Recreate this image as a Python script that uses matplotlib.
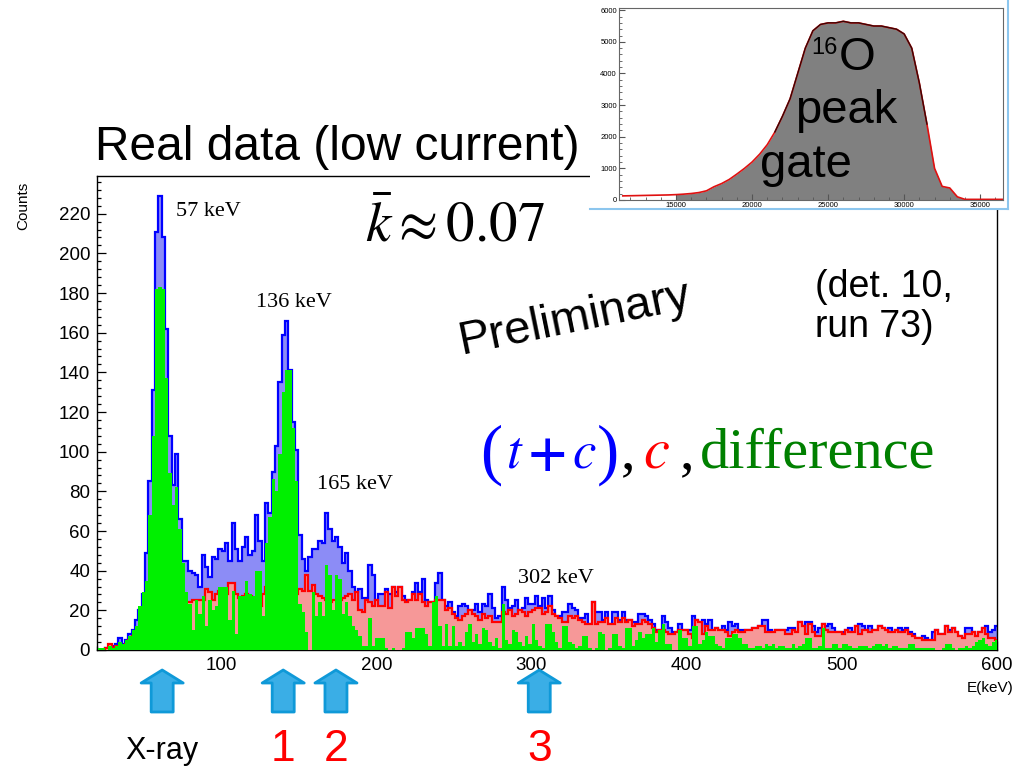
import numpy as np
import matplotlib
matplotlib.use('Agg')
import matplotlib.pyplot as plt
from matplotlib.patches import Polygon, Rectangle
from matplotlib.lines import Line2D
from matplotlib.ticker import MultipleLocator

W, H = 1015, 768

# Энергетический диапазон спектра (keV), 270 бинов
e_min, e_max = 20, 600

# (t+c) - синяя гистограмма
counts_total = [
    0, 0, 1, 1, 2, 3, 6, 3, 5, 8,
    10, 15, 20, 28, 49, 85, 131, 211, 229, 208,
    162, 108, 83, 99, 66, 45, 45, 40, 39, 38,
    32, 48, 42, 37, 47, 46, 51, 50, 54, 45,
    64, 51, 45, 52, 57, 48, 50, 68, 55, 45,
    74, 69, 90, 103, 135, 159, 166, 141, 115, 101,
    58, 46, 40, 47, 51, 51, 55, 54, 69, 61,
    55, 57, 52, 44, 49, 40, 32, 29, 31, 26,
    26, 43, 38, 25, 28, 28, 31, 28, 32, 29,
    32, 27, 25, 25, 29, 34, 29, 36, 25, 24,
    24, 34, 39, 25, 22, 24, 19, 17, 22, 23,
    22, 20, 20, 23, 19, 23, 22, 28, 21, 16,
    17, 32, 25, 21, 22, 25, 20, 21, 26, 23,
    23, 27, 22, 26, 21, 27, 20, 17, 17, 19,
    19, 23, 21, 20, 16, 16, 18, 13, 24, 19,
    19, 15, 19, 13, 19, 19, 15, 19, 15, 15,
    14, 14, 18, 18, 17, 15, 13, 10, 10, 17,
    14, 11, 9, 9, 13, 10, 10, 10, 17, 15,
    14, 15, 13, 15, 10, 11, 10, 12, 10, 14,
    12, 13, 10, 10, 10, 10, 11, 11, 12, 15,
    15, 10, 9, 10, 10, 10, 10, 11, 11, 9,
    14, 12, 14, 14, 12, 9, 11, 13, 12, 13,
    11, 9, 9, 9, 10, 11, 9, 12, 13, 12,
    10, 12, 10, 10, 12, 11, 10, 11, 9, 10,
    11, 10, 11, 9, 8, 6, 6, 7, 6, 5,
    9, 10, 8, 8, 12, 10, 11, 9, 7, 6,
    11, 11, 9, 7, 9, 11, 12, 9, 10, 12,
]

# c - красная гистограмма
counts_c = [
    0, 0, 1, 3, 1, 2, 1, 2, 3, 5,
    7, 8, 8, 8, 10, 12, 15, 18, 20, 20,
    22, 22, 22, 22, 23, 23, 24, 24, 25, 25,
    25, 25, 31, 29, 25, 28, 30, 28, 28, 34,
    34, 28, 26, 27, 28, 27, 25, 24, 22, 28,
    32, 28, 26, 26, 25, 25, 25, 25, 26, 28,
    31, 30, 38, 30, 33, 28, 27, 26, 25, 24,
    25, 25, 25, 26, 27, 28, 25, 29, 20, 19,
    25, 24, 22, 25, 22, 22, 29, 21, 32, 27,
    32, 25, 24, 25, 28, 25, 28, 24, 22, 24,
    24, 25, 25, 25, 20, 21, 18, 16, 15, 17,
    18, 20, 18, 17, 15, 18, 16, 17, 14, 14,
    14, 19, 18, 20, 17, 18, 20, 19, 17, 19,
    20, 21, 21, 18, 19, 22, 18, 17, 16, 14,
    14, 17, 16, 17, 15, 14, 13, 13, 24, 13,
    14, 14, 16, 13, 13, 16, 14, 16, 14, 15,
    12, 13, 13, 15, 14, 13, 11, 9, 10, 10,
    9, 8, 8, 9, 10, 10, 10, 8, 6, 15,
    14, 8, 12, 10, 10, 11, 10, 10, 9, 7,
    9, 10, 9, 9, 10, 10, 11, 11, 12, 12,
    9, 9, 9, 10, 10, 10, 8, 8, 10, 9,
    14, 12, 8, 13, 9, 7, 7, 13, 10, 9,
    9, 9, 9, 8, 10, 9, 9, 12, 8, 10,
    10, 9, 10, 10, 12, 11, 10, 9, 9, 10,
    9, 9, 10, 8, 7, 6, 6, 5, 5, 5,
    5, 10, 8, 8, 12, 9, 11, 9, 7, 6,
    8, 8, 9, 7, 9, 11, 8, 6, 6, 5,
]

# difference - зелёная гистограмма
counts_diff = [
    1, 1, 0, 2, 1, 2, 4, 3, 5, 7,
    10, 12, 22, 29, 35, 68, 108, 182, 183, 182,
    137, 89, 73, 82, 61, 44, 29, 23, 10, 25,
    18, 27, 12, 25, 20, 22, 32, 32, 32, 15,
    30, 8, 27, 27, 35, 28, 27, 40, 40, 17,
    54, 67, 86, 80, 99, 130, 141, 141, 112, 85,
    23, 19, 9, 0, 29, 17, 24, 17, 43, 38,
    20, 38, 36, 18, 24, 17, 12, 10, 7, 2,
    2, 16, 2, 6, 6, 6, 1, 0, 1, 0,
    0, 1, 9, 9, 6, 11, 11, 11, 8, 2,
    24, 27, 12, 2, 13, 2, 12, 2, 4, 2,
    9, 13, 4, 8, 3, 11, 10, 4, 2, 6,
    1, 23, 5, 3, 10, 9, 4, 2, 7, 3,
    13, 5, 2, 1, 13, 13, 9, 4, 1, 12,
    12, 4, 3, 1, 2, 7, 7, 1, 0, 1,
    9, 8, 0, 1, 8, 8, 2, 1, 11, 11,
    2, 5, 9, 6, 8, 8, 11, 4, 10, 13,
    3, 3, 0, 0, 10, 6, 6, 2, 12, 12,
    3, 5, 9, 7, 7, 3, 2, 1, 6, 6,
    8, 8, 6, 3, 3, 1, 1, 2, 2, 1,
    3, 2, 3, 1, 2, 2, 1, 1, 3, 1,
    2, 3, 6, 6, 1, 1, 2, 11, 1, 1,
    3, 3, 1, 3, 3, 2, 1, 1, 2, 2,
    2, 1, 2, 3, 3, 2, 3, 1, 2, 2,
    1, 1, 1, 3, 3, 1, 1, 1, 1, 1,
    1, 0, 0, 1, 3, 3, 1, 0, 1, 1,
    2, 1, 2, 4, 5, 6, 3, 2, 4, 5,
]

# Вставка: спектр с гейтом на пик 16O
gate_channel = [11500, 12000, 12500, 13000, 13500, 14000, 14500, 15000, 15500, 16000,
                16500, 17000, 17500, 18000, 18500, 19000, 19500, 20000, 20500, 21000,
                21500, 22000, 22500, 23000, 23500, 24000, 24500, 25000, 25500, 26000,
                26500, 27000, 27500, 28000, 28500, 29000, 29500, 30000, 30500, 31000,
                31500, 32000, 32500, 33000, 33500, 34000, 34500, 35000, 35500, 36000,
                36500]
gate_counts = [130, 135, 140, 145, 150, 155, 160, 170, 185, 205,
               235, 290, 420, 520, 650, 820, 1000, 1200, 1450, 1750,
               2150, 2650, 3200, 4000, 4800, 5350, 5550, 5600, 5600, 5650,
               5600, 5600, 5550, 5500, 5500, 5450, 5400, 5250, 4800, 3700,
               2400, 1000, 430, 380, 100, 20, 20, 20, 20, 20,
               20]

peak_labels = ['57 keV', '136 keV', '165 keV', '302 keV']
arrow_energies = [62, 140, 174, 305]
arrow_labels = ['X-ray', '1', '2', '3']
arrow_label_colors = ['black', 'red', 'red', 'red']


def fx(x):
    return x / W


def fy(y):
    return 1 - y / H


plt.rcParams['font.family'] = ['Liberation Sans', 'DejaVu Sans']
plt.rcParams['mathtext.fontset'] = 'stix'

fig = plt.figure(figsize=(W / 100, H / 100), dpi=100)

# Основной спектр (бины сдвинуты на ~0.8 keV, как в оригинале)
ax = fig.add_axes([fx(97), fy(650), 900 / W, 474 / H])
edges = np.linspace(e_min + 0.8, e_max + 0.8, len(counts_total) + 1)
ax.stairs(counts_total, edges, fill=True, color='#8c8cf6', zorder=2)
ax.stairs(counts_total, edges, color='#0000ff', lw=1.6, zorder=2.1)
ax.stairs(counts_c, edges, fill=True, color='#f69898', zorder=3)
ax.stairs(counts_c, edges, color='#ff0000', lw=1.6, zorder=3.1)
ax.stairs(counts_diff, edges, fill=True, color='#00f000', zorder=4)

ax.set_xlim(e_min, e_max)
ax.set_ylim(0, 239)
ax.xaxis.set_major_locator(MultipleLocator(100))
ax.xaxis.set_minor_locator(MultipleLocator(20))
ax.yaxis.set_major_locator(MultipleLocator(20))
ax.yaxis.set_minor_locator(MultipleLocator(4))
ax.set_axisbelow(True)
ax.tick_params(which='both', direction='in', top=False, right=False)
ax.tick_params(which='major', length=6.5, width=0.9, labelsize=13.5, pad=5)
ax.tick_params(which='minor', length=3.2, width=0.9)
for s in ax.spines.values():
    s.set_linewidth(1.0)

fig.text(fx(23), fy(206), 'Counts', rotation=90, ha='center', va='center', fontsize=11)
fig.text(fx(1013), fy(688), 'E(keV)', ha='right', va='center', fontsize=11)

# Подписи пиков
serif = 'Liberation Serif'
peak_pos = [(176, 216), (256, 307), (317, 489), (518, 583)]
for lab, (x, y) in zip(peak_labels, peak_pos):
    fig.text(fx(x), fy(y), lab, family=serif, fontsize=16, va='baseline')

# Большие надписи
fig.text(fx(95), fy(160), 'Real data (low current)', fontsize=34.5, va='baseline')
fig.text(fx(365), fy(242), r'$\bar{k}\approx 0.07$', fontsize=41, va='baseline')
fig.text(fx(461), fy(354), 'Preliminary', fontsize=34, rotation=11.5,
         rotation_mode='anchor', ha='left', va='baseline')
fig.text(fx(815), fy(297), '(det. 10,', fontsize=27, va='baseline')
fig.text(fx(815), fy(337), 'run 73)', fontsize=27, va='baseline')

# (t+c), c, difference
fig.text(fx(480), fy(472), '(', family=serif, fontsize=48, color='blue', va='baseline')
fig.text(fx(506), fy(468), r'$t\,\mathbf{+}\,c$', fontsize=38, color='blue', va='baseline')
fig.text(fx(597), fy(472), ')', family=serif, fontsize=48, color='blue', va='baseline')
fig.text(fx(621), fy(468), ',', family=serif, fontsize=42, color='black', va='baseline')
fig.text(fx(643), fy(468), r'$c$', fontsize=42, color='red', va='baseline')
fig.text(fx(680), fy(468), ',', family=serif, fontsize=42, color='black', va='baseline')
fig.text(fx(700), fy(468), 'difference', family=serif, fontsize=42, color='#008000',
         va='baseline')

# Стрелки под осью
for e, lab, col in zip(arrow_energies, arrow_labels, arrow_label_colors):
    xc = 97 + (e - e_min) / (e_max - e_min) * 900
    pts = [(xc, 670), (xc + 21, 683), (xc + 11, 683), (xc + 11, 712),
           (xc - 11, 712), (xc - 11, 683), (xc - 21, 683)]
    fig.add_artist(Polygon([(fx(px), fy(py)) for px, py in pts], closed=True,
                           transform=fig.transFigure, facecolor='#3aaee6',
                           edgecolor='#0f99d8', lw=2, joinstyle='round'))
    if lab == 'X-ray':
        fig.text(fx(xc), fy(759), lab, ha='center', va='baseline', fontsize=22, color=col)
    else:
        fig.text(fx(xc), fy(761), lab, ha='center', va='baseline', fontsize=32, color=col)

# Вставка
fig.add_artist(Rectangle((fx(590), fy(209)), 418 / W, 209 / H, transform=fig.transFigure,
                         facecolor='white', edgecolor='none', zorder=2))
fig.add_artist(Line2D([fx(590), fx(1008)], [fy(209), fy(209)], color='#8cc6ee', lw=1.5, zorder=2.1))
fig.add_artist(Line2D([fx(1008), fx(1008)], [fy(209), fy(0)], color='#8cc6ee', lw=1.5, zorder=2.1))

ax_in = fig.add_axes([fx(619), fy(200), 384 / W, 192 / H], zorder=3)
gx = np.array(gate_channel)
gy = np.array(gate_counts)
mask = gx >= 15000
ax_in.fill_between(gx[mask], gy[mask], color='#808080', lw=0)
ax_in.plot(gx, gy, color='#e01010', lw=1.2)
ax_in.plot(gx[gy > 2000], gy[gy > 2000], color='#3a0505', lw=1.0)
ax_in.set_xlim(11250, 36500)
ax_in.set_ylim(0, 6070)
ax_in.xaxis.set_major_locator(MultipleLocator(5000))
ax_in.xaxis.set_minor_locator(MultipleLocator(1000))
ax_in.yaxis.set_major_locator(MultipleLocator(1000))
ax_in.yaxis.set_minor_locator(MultipleLocator(200))
ax_in.tick_params(which='both', direction='in', labelsize=5.5, pad=1.5, color='#555555')
ax_in.tick_params(which='major', length=4)
ax_in.tick_params(which='minor', length=2)
for s in ax_in.spines.values():
    s.set_color('#666666')
    s.set_linewidth(0.8)

fig.text(fx(811), fy(54), '16', fontsize=17, va='baseline', zorder=4)
fig.text(fx(839), fy(70), 'O', fontsize=34, va='baseline', zorder=4)
fig.text(fx(795), fy(123), 'peak', fontsize=34, va='baseline', zorder=4)
fig.text(fx(760), fy(177), 'gate', fontsize=34, va='baseline', zorder=4)

plt.savefig('out.png', dpi=100)
